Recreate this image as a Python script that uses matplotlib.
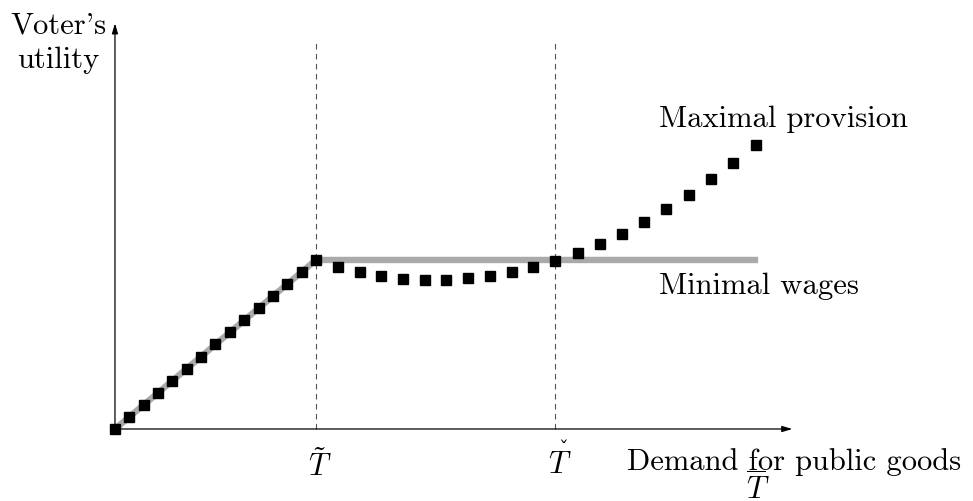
import matplotlib
matplotlib.use("Agg")

import matplotlib.pyplot as plt

# data in chart units: T~ = 1, utility plateau = 1
t_tilde = 1.0
t_check = 2.19
plateau = 1.0
gray_end = 3.2
x_axis_end = 3.37
y_axis_end = 2.40
dash_top = 2.30

# "Maximal provision" marker points
mp_x = [k / 14 for k in range(15)] + [
    1.109, 1.219, 1.323, 1.433, 1.542, 1.647, 1.756, 1.866, 1.975, 2.080, 2.19,
    2.303, 2.413, 2.522, 2.632, 2.741, 2.856, 2.965, 3.075, 3.189]
mp_y = [k / 14 for k in range(15)] + [
    0.959, 0.929, 0.905, 0.888, 0.882, 0.882, 0.893, 0.905, 0.929, 0.959, 0.994,
    1.041, 1.095, 1.154, 1.225, 1.302, 1.385, 1.479, 1.574, 1.680]

# "Minimal wages" line
mw_x = [0.0, t_tilde, gray_end]
mw_y = [0.0, plateau, plateau]

plt.rcParams["font.family"] = ["cmr10", "DejaVu Serif"]
plt.rcParams["mathtext.fontset"] = "cm"
plt.rcParams["axes.formatter.use_mathtext"] = True

fig = plt.figure(figsize=(9.73, 5.02), dpi=100)
ax = fig.add_axes([0, 0, 1, 1])
ax.set_xlim(-0.572, 4.269)
ax.set_ylim(-0.426, 2.544)
ax.axis("off")

# dashed guides
for xv in (t_tilde, t_check):
    ax.plot([xv, xv], [0, dash_top], color="#555555", lw=0.8,
            dashes=(5, 4), zorder=1)

# axes with arrows
ax.annotate("", xy=(x_axis_end, 0), xytext=(0, 0),
            arrowprops=dict(arrowstyle="-|>,head_length=0.6,head_width=0.18",
                            color="black", lw=0.9, shrinkA=0, shrinkB=0))
ax.annotate("", xy=(0, y_axis_end), xytext=(0, 0),
            arrowprops=dict(arrowstyle="-|>,head_length=0.6,head_width=0.18",
                            color="black", lw=0.9, shrinkA=0, shrinkB=0))

ax.plot(mw_x, mw_y, color="#aaaaaa", lw=4.6, solid_capstyle="butt", zorder=2)
ax.plot(mp_x, mp_y, linestyle="none", marker="s", markersize=7,
        color="black", zorder=3)

fs = 22
ax.text(-0.28, 2.29, "Voter's\nutility", ha="center", va="center",
        fontsize=fs, linespacing=1.3)
ax.text(2.705, 1.84, "Maximal provision", ha="left", va="center", fontsize=fs)
ax.text(2.705, 0.85, "Minimal wages", ha="left", va="center", fontsize=fs)
ax.text(t_tilde + 0.02, -0.21, r"$\tilde{T}$", ha="center", va="center",
        fontsize=fs)
# T with a caron (mathtext has no \check accent)
ax.text(t_check + 0.024, -0.21, r"$T$", ha="center", va="center", fontsize=fs)
ax.text(t_check + 0.04, -0.12, "\u02c7", ha="center", va="center",
        fontsize=14, family="DejaVu Serif")
ax.text(3.38, -0.19, "Demand for public goods", ha="center", va="center",
        fontsize=fs)
ax.text(3.20, -0.348, r"$\overline{T}$", ha="center", va="center", fontsize=fs)

fig.savefig("out.png", dpi=100)
